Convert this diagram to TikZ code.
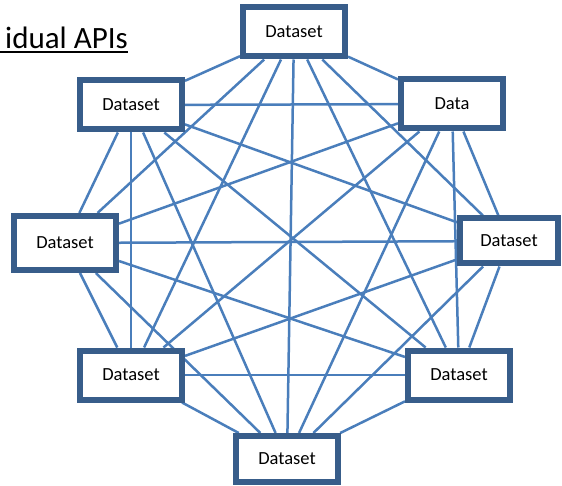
\documentclass[tikz,border=0pt]{standalone}
\usepackage{fontspec}
\setmainfont{Carlito}
\usetikzlibrary{backgrounds}
\definecolor{boxblue}{HTML}{385D8A}
\definecolor{linkblue}{HTML}{4A7EBB}
\tikzset{
  dsbox/.style = {draw=boxblue, line width=6pt, fill=white, inner sep=0pt,
                  minimum width=102pt, minimum height=49pt,
                  font=\fontsize{18.5}{20}\selectfont},
  link/.style  = {linkblue, line width=2.5pt},
  ttl/.style   = {font=\fontsize{31}{35}\selectfont, inner sep=0pt, anchor=base west},
}

\begin{document}
\begin{tikzpicture}[x=1pt,y=-1pt]
  \useasboundingbox (0,0) rectangle (562,486);
  % heading
  \node[ttl] (title) at (5,49) {idual APIs};
  \draw[line width=2pt] ([yshift=-3.5pt]title.base west) ++(-5pt,0) -- ([yshift=-3.5pt]title.base east);
  % the eight data sets, clockwise from the top
  \node[dsbox] (n1) at (294,32) {Dataset};
  \node[dsbox] (n2) at (452,104) {Data};
  \node[dsbox, minimum width=98pt, minimum height=45pt] (n3) at (509,241) {Dataset};
  \node[dsbox] (n4) at (459,375) {Dataset};
  \node[dsbox, minimum height=46pt] (n5) at (287,459) {Dataset};
  \node[dsbox] (n6) at (131,375) {Dataset};
  \node[dsbox, minimum height=54pt] (n7) at (65,243) {Dataset};
  \node[dsbox] (n8) at (131,105) {Dataset};
  % every set linked to every other one
  \begin{scope}[on background layer]
    \foreach \a [evaluate=\a as \s using int(\a+1)] in {1,...,7}
      \foreach \b in {\s,...,8}
        \draw[link] (n\a) -- (n\b);
  \end{scope}
\end{tikzpicture}
\end{document}
